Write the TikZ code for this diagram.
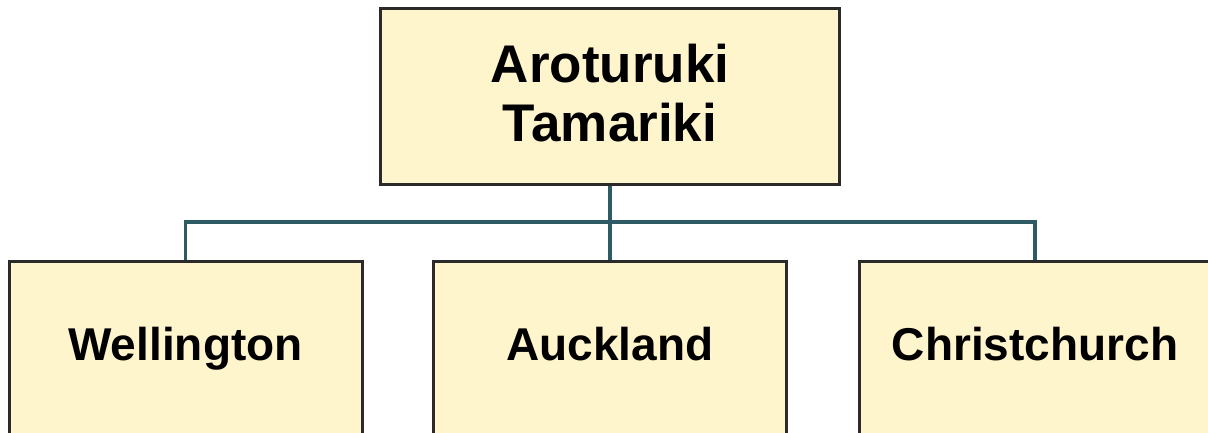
\documentclass[tikz,border=0pt]{standalone}
\usepackage{fontspec}
\setmainfont{Liberation Sans}
\definecolor{boxfill}{HTML}{FFF5CC}
\definecolor{boxline}{HTML}{2A2A2A}
\definecolor{connline}{HTML}{2E5A64}
\tikzset{
  x=1pt, y=-1pt,
  box/.style={draw=boxline, fill=boxfill, line width=3pt, rectangle, inner sep=0pt},
  lbl/.style={font=\fontsize{46}{50}\selectfont\bfseries, inner sep=0pt, anchor=base},
  conn/.style={draw=connline, line width=3.2pt}
}
\begin{document}
\begin{tikzpicture}
\useasboundingbox (0,0) rectangle (1208,433);
\clip (0,0) rectangle (1208,433);
\fill[white] (0,0) rectangle (1208,433);
% top box
\node[box, minimum width=459pt, minimum height=176pt] (top) at (610,97) {};
\node[align=center, inner sep=0pt,
      font=\fontsize{53}{60}\selectfont\bfseries] (topl) at (610,93) {Aroturuki\\[-1pt]Tamariki};
% bottom boxes (cut off by the picture's lower edge)
\node[box, minimum width=353pt, minimum height=200pt, anchor=north] (w) at (185.5,260) {};
\node[box, minimum width=353pt, minimum height=200pt, anchor=north] (a) at (610,260) {};
\node[box, minimum width=352pt, minimum height=200pt, anchor=north] (c) at (1035,260) {};
\node[lbl] (wl) at (185.5,360) {Wellington};
\node[lbl] (al) at (610,360) {Auckland};
\node[lbl] (cl) at (1035,360) {Christchurch};
% connectors
\coordinate (j) at (610,222);
\draw[conn] (top.south) -- (a.north);
\draw[conn] (w.north) |- (j) -| (c.north);
\end{tikzpicture}
\end{document}
